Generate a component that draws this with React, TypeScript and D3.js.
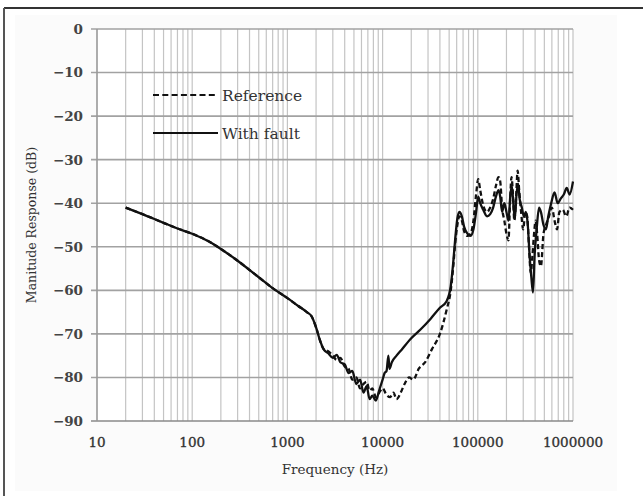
import * as d3 from "d3";

// frequency (Hz) / magnitude (dB)
const freqFault = [
  20, 30, 50, 70, 100, 150, 200, 300, 500, 700, 1000, 1300, 1600, 1800, 2000, 2200, 2400, 2700,
  3000, 3300, 3600, 4000, 4400, 4800, 5300, 5800, 6300, 6800, 7300, 7800, 8500, 9200, 10000,
  10500, 11000, 11500, 11800, 12500, 14000, 16000, 20000, 25000, 32000, 40000, 47000, 52000,
  55000, 58000, 61000, 64000, 68000, 72000, 78000, 84000, 90000, 96000, 101000, 106000, 114000,
  125000, 135000, 145000, 155000, 165000, 172000, 180000, 190000, 200000, 210000, 220000, 228000,
  236000, 245000, 255000, 265000, 275000, 290000, 305000, 320000, 335000, 350000, 365000, 380000,
  395000, 415000, 440000, 460000, 490000, 520000, 550000, 590000, 640000, 690000, 740000, 800000,
  860000, 920000, 1000000,
];
const dbFault = [
  -41, -42.5, -44.5, -45.8, -47, -48.8, -50.5, -53.2, -57, -59.5, -61.8, -63.6, -65, -66, -68.5, -71.5,
  -73.5, -74.5, -75.5, -74.8, -76.5, -77, -79, -78.5, -81.5, -80.5, -83.5, -82, -85, -84.2, -85.3,
  -83, -80.5, -79, -78.5, -75, -78, -76.5, -75, -73.5, -71, -69, -66.5, -64, -62.5, -59, -54, -48,
  -43.5, -42, -43, -45.5, -47, -47.5, -46, -42, -38.5, -40, -41.5, -43, -42.5, -41, -38.5, -37,
  -38.5, -42, -40, -42, -44, -38, -36, -40, -43.5, -38, -35.5, -39, -41, -43, -42, -45, -52, -57,
  -60.5, -52, -46, -41, -42, -45, -46, -43, -40, -37.5, -40, -39, -38, -36.5, -38, -35,
];

const freqRef = [
  20, 30, 50, 70, 100, 150, 200, 300, 500, 700, 1000, 1300, 1600, 1800, 2000, 2200, 2400, 2700,
  3000, 3300, 3600, 4000, 4400, 4800, 5300, 5800, 6300, 6800, 7300, 7800, 8500, 9200, 10000,
  11000, 12000, 13000, 14000, 15500, 17000, 19000, 21000, 24000, 28000, 33000, 40000, 47000,
  52000, 55000, 58000, 61000, 64000, 68000, 72000, 78000, 84000, 90000, 96000, 101000, 106000,
  114000, 125000, 135000, 145000, 155000, 165000, 172000, 180000, 190000, 200000, 210000, 218000,
  226000, 234000, 242000, 252000, 262000, 272000, 285000, 300000, 315000, 330000, 345000, 360000,
  375000, 390000, 405000, 420000, 440000, 460000, 490000, 520000, 560000, 600000, 640000, 680000,
  720000, 780000, 850000, 920000, 1000000,
];
const dbRef = [
  -41, -42.5, -44.5, -45.8, -47, -48.8, -50.5, -53.2, -57, -59.5, -61.8, -63.6, -65, -66, -68.5, -71.5,
  -73.5, -74, -75, -76, -75.5, -77.5, -78, -80.5, -80, -82.5, -81.5, -81, -83, -82.5, -84.5, -83.5,
  -82.5, -84, -84.5, -83.5, -85, -83.5, -81.5, -80, -80.5, -78, -76.5, -73.5, -70, -64.5, -60,
  -55, -49, -45, -43, -44, -46.5, -47.5, -47, -44, -38, -34.5, -37, -40.5, -42, -41, -39, -36,
  -34, -35, -41, -44, -47, -48.5, -40, -34, -38, -44, -39, -32.5, -37, -42, -46, -42, -43, -50,
  -56, -52, -47, -44, -47, -53, -54.5, -47, -45, -43, -41, -44, -46, -42, -41.5, -43, -41, -41.5,
];

const yTickValues = [0, -10, -20, -30, -40, -50, -60, -70, -80, -90];
const xTickValues = [10, 100, 1000, 10000, 100000, 1000000];

const W = 643;
const H = 496;
const left = 97;
const right = 573;
const top = 29;
const bottom = 421;

export default function App() {
  const x = d3.scaleLog().domain([10, 1000000]).range([left, right]);
  const y = d3.scaleLinear().domain([-90, 0]).range([bottom, top]);

  const line = d3
    .line<[number, number]>()
    .x((d) => x(d[0]))
    .y((d) => y(d[1]))
    .curve(d3.curveMonotoneX);

  const refPts: [number, number][] = freqRef.map((f, i) => [f, dbRef[i]]);
  const faultPts: [number, number][] = freqFault.map((f, i) => [f, dbFault[i]]);

  const minorX = x.ticks();
  const fmt = d3.format("d");
  const font = "'DejaVu Serif', serif";

  return (
    <svg
      width={W}
      height={H}
      style={{ position: "absolute", left: 0, top: 0, display: "block", background: "#fff" }}
    >
      <rect x={15} y={15} width={602} height={476} fill="#fbfbfb" />
      <line x1={4} x2={W} y1={8} y2={8} stroke="#333" strokeWidth={2} />
      <line x1={4} x2={4} y1={8} y2={H} stroke="#555" strokeWidth={2} />
      <rect x={left} y={top} width={right - left} height={bottom - top} fill="#fff" />

      {/* vertical grid */}
      {minorX.map((t, i) => (
        <line
          key={"vx" + i}
          x1={x(t)}
          x2={x(t)}
          y1={top}
          y2={bottom}
          stroke="#c4c4c4"
          strokeWidth={1.2}
        />
      ))}

      {/* horizontal grid */}
      {yTickValues.map((t) => (
        <line
          key={"hy" + t}
          x1={left - 6}
          x2={right}
          y1={y(t)}
          y2={y(t)}
          stroke={t === -90 ? "#8a8a8a" : "#a2a2a2"}
          strokeWidth={1.6}
        />
      ))}
      <line x1={left} x2={left} y1={top} y2={bottom} stroke="#999" strokeWidth={1.4} />

      {/* y tick labels */}
      {yTickValues.map((t) => (
        <text
          key={"ty" + t}
          x={83}
          y={y(t)}
          dy="0.36em"
          textAnchor="end"
          fontFamily={font}
          fontWeight="bold"
          fontSize={13.5}
          fill="#444"
        >
          {fmt(t)}
        </text>
      ))}

      {/* x tick labels */}
      {xTickValues.map((t) => (
        <text
          key={"tx" + t}
          x={x(t)}
          y={447}
          textAnchor="middle"
          fontFamily={font}
          fontSize={13.5}
          fill="#333"
          stroke="#333"
          strokeWidth={0.35}
        >
          {fmt(t)}
        </text>
      ))}

      {/* axis titles */}
      <text x={335} y={474} textAnchor="middle" fontFamily={font} fontSize={13.5} fill="#333">
        Frequency (Hz)
      </text>
      <text
        transform={`translate(36,${(top + bottom) / 2}) rotate(-90)`}
        textAnchor="middle"
        fontFamily={font}
        fontSize={12.5}
        fill="#333"
      >
        Manitude Response (dB)
      </text>

      {/* series */}
      <path
        d={line(refPts) ?? ""}
        fill="none"
        stroke="#111"
        strokeWidth={2.3}
        strokeDasharray="5,3"
      />
      <path d={line(faultPts) ?? ""} fill="none" stroke="#111" strokeWidth={2.3} />

      {/* legend */}
      <line x1={153} x2={218} y1={95} y2={95} stroke="#111" strokeWidth={2} strokeDasharray="6,3.3" />
      <text x={222} y={100.5} fontFamily={font} fontSize={15.5} fill="#333">
        Reference
      </text>
      <line x1={153} x2={218} y1={133} y2={133} stroke="#111" strokeWidth={2} />
      <text x={222} y={138.5} fontFamily={font} fontSize={15.5} fill="#333">
        With fault
      </text>
    </svg>
  );
}
